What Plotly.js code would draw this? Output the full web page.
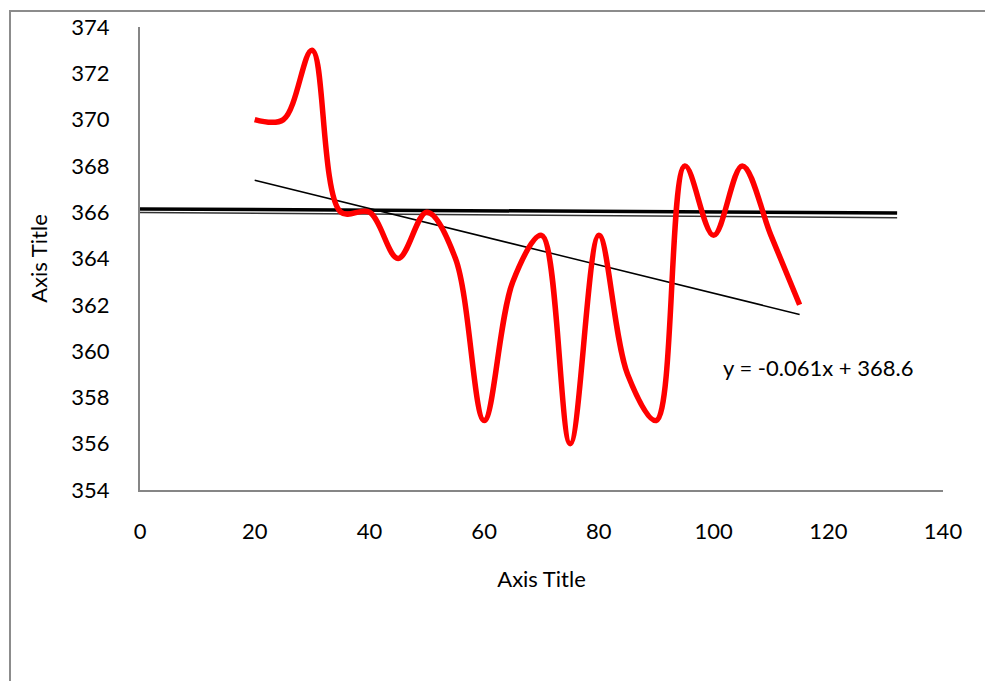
<!DOCTYPE html>
<html><head><meta charset="utf-8">
<script src="https://cdn.plot.ly/plotly-3.0.1.min.js"></script>
<style>
html,body{margin:0;padding:0;background:#fff;overflow:hidden}
#wrap{position:absolute;left:0;top:0;width:985px;height:681px}
#frame{position:absolute;left:9px;top:10px;width:1000px;height:700px;border-left:2px solid #8c8c8c;border-top:2px solid #8c8c8c;pointer-events:none;z-index:5}
#chart{position:absolute;left:0;top:0;width:985px;height:681px}
</style></head>
<body><div id="wrap"><div id="chart"></div><div id="frame"></div></div>
<script>
// data
const xVals = [20,25,30,35,40,45,50,55,60,65,70,75,80,85,90,95,100,105,110,115];
const yVals = [370,370,373,366,366,364,366,364,357,363,365,356,365,359,357,368,365,368,365,362];
const trendX = [20,115];
const trendY = [367.38,361.585];
const flatX = [0,132];
const flatThickY = [366.14,365.97];
const flatThinY = [365.99,365.76];
const xTicks = [0,20,40,60,80,100,120,140];
const yTicks = [354,356,358,360,362,364,366,368,370,372,374];
const eqText = "y = -0.061x + 368.6";

const traces = [
  {x:flatX,y:flatThinY,mode:'lines',line:{color:'#333',width:1.5},hoverinfo:'skip'},
  {x:flatX,y:flatThickY,mode:'lines',line:{color:'#000',width:3.5},hoverinfo:'skip'},
  {x:trendX,y:trendY,mode:'lines',line:{color:'#000',width:1.5},hoverinfo:'skip'},
  {x:xVals,y:yVals,mode:'lines',line:{color:'#ff0000',width:5.5,shape:'spline',smoothing:1},hoverinfo:'skip'}
];
const font = {family:'Lato, "Open Sans", sans-serif',size:22,color:'#000'};
const layout = {
  width:985,height:681,showlegend:false,
  paper_bgcolor:'#fff',plot_bgcolor:'#fff',
  margin:{l:140,r:42,t:27,b:191},
  font:font,
  xaxis:{range:[0,140],tickvals:xTicks,ticktext:xTicks.map(String),showgrid:false,zeroline:false,
    showline:true,linecolor:'#868686',linewidth:2,ticks:'',ticklabelstandoff:21,
    title:{text:'Axis Title',font:font,standoff:28}},
  yaxis:{range:[354,374],tickvals:yTicks,ticktext:yTicks.map(String),showgrid:false,zeroline:false,
    showline:true,linecolor:'#868686',linewidth:2,ticks:'',ticklabelstandoff:24,
    title:{text:'Axis Title',font:font,standoff:18}},
  annotations:[{x:118.2,y:359.3,xref:'x',yref:'y',text:eqText,showarrow:false,font:font}]
};
Plotly.newPlot('chart',traces,layout,{staticPlot:true,displayModeBar:false});
</script></body></html>
